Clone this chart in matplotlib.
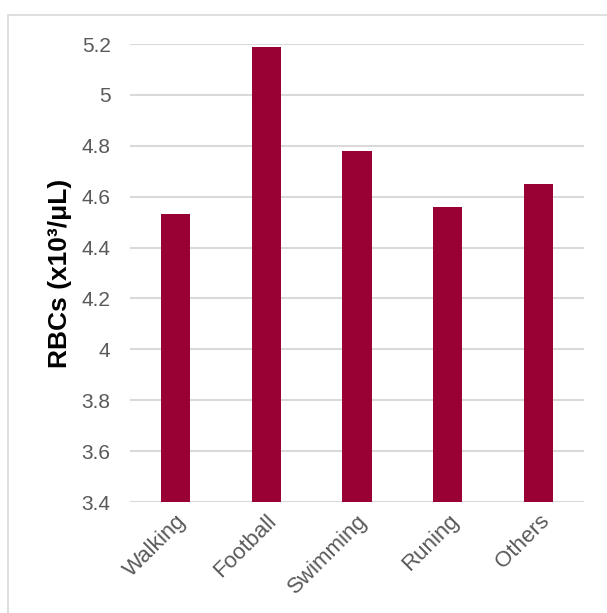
import matplotlib
matplotlib.use("Agg")
import matplotlib.pyplot as plt
from matplotlib.patches import Rectangle

categories = ["Walking", "Football", "Swimming", "Runing", "Others"]
values = [4.53, 5.19, 4.78, 4.56, 4.65]
yticks = [3.4, 3.6, 3.8, 4.0, 4.2, 4.4, 4.6, 4.8, 5.0, 5.2]
yticklabels = ["3.4", "3.6", "3.8", "4", "4.2", "4.4", "4.6", "4.8", "5", "5.2"]

plt.rcParams['font.family'] = ['Liberation Sans', 'DejaVu Sans']

fig = plt.figure(figsize=(6.07, 6.13), dpi=100)
fig.patches.append(Rectangle((8/607, -0.1), 1.2, 1 - 15/613 + 0.1, transform=fig.transFigure,
                             fill=False, edgecolor='#d9d9d9', linewidth=1.2))
ax = fig.add_axes([130/607, 1 - 502/613, 454/607, 458/613])
x = range(len(categories))
ax.bar(x, values, width=0.32, color='#990033', zorder=3)
ax.set_xlim(-0.5, len(categories) - 0.5)
ax.set_ylim(3.4, 5.2)
ax.set_yticks(yticks)
ax.set_yticklabels(yticklabels)
ax.set_xticks(list(x))
ax.set_xticklabels(categories, rotation=45, ha='right', va='top', rotation_mode='anchor')
ax.tick_params(axis='both', length=0, labelcolor='#595959')
ax.tick_params(axis='y', pad=14, labelsize=15)
ax.tick_params(axis='x', pad=6, labelsize=16)
ax.grid(axis='y', color='#d9d9d9', linewidth=1.5, zorder=0)
for s in ax.spines.values():
    s.set_visible(False)
ax.set_ylabel("RBCs (x10³/μL)", fontsize=19, fontweight='bold', color='black', labelpad=7)
fig.savefig("out.png", dpi=100)
